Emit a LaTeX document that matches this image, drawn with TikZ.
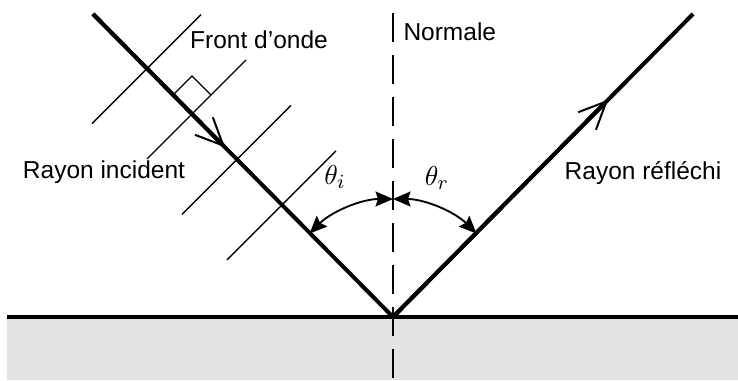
\documentclass[tikz,border=0pt]{standalone}
\usepackage{fontspec}
\setmainfont{Liberation Sans}
\usetikzlibrary{arrows.meta,positioning,calc}
\tikzset{
  ray/.style={line width=1.6pt},
  front/.style={line width=0.55pt},
  normal/.style={line width=0.8pt, dash pattern=on 11.6pt off 5.2pt},
  surface/.style={line width=1.3pt},
  ground/.style={fill=black!11},
  angarc/.style={line width=0.75pt, {Stealth[length=7pt,width=6pt,inset=1pt]}-{Stealth[length=7pt,width=6pt,inset=1pt]}},
  barb/.style={line width=1.6pt, -{Straight Barb[length=11pt,width=10pt,line width=0.8pt]}},
  lbl/.style={font=\fontsize{9.8}{12}\selectfont, inner sep=0pt},
  ang/.style={font=\fontsize{11}{13}\selectfont, inner sep=0pt}}

\begin{document}
\begin{tikzpicture}[x=0.4pt, y=0.4pt]
  \useasboundingbox (0,0) rectangle (738,380);
  % points
  \coordinate (O) at (393,63);
  \coordinate (A) at (93,366);
  \coordinate (B) at (693,366);
  \coordinate (ntop) at (393,367);
  \coordinate (nbot) at (393,0);
  \coordinate (sl) at (7,63);
  \coordinate (sr) at (738,63);
  \coordinate (ai) at ($(A)!0.44!(O)$);
  \coordinate (ar) at ($(O)!0.717!(B)$);
  % mirror
  \fill[ground] (7,0) rectangle (738,62);
  \draw[surface] (sl) -- (sr);
  \draw[normal] (ntop) -- (nbot);
  % wave fronts
  \foreach \t/\lo [count=\k] in {0.18/55,0.33/45,0.48/55,0.63/55} {
    \coordinate (w\k) at ($(A)!\t!(O)$);
    \draw[front] ($(w\k)+(-\lo,-\lo)$) -- ($(w\k)+(54,54)$);
  }
  \draw[front] ($(w2)+(-19,19)$) -- ($(w2)+(0,38)$) -- ($(w2)+(19,19)$);
  % rays
  \draw[ray] (A) -- (O) -- (B);
  \draw[barb] (A) -- (ai);
  \draw[barb] (O) -- (ar);
  % angles
  \draw[angarc] ($(O)+(135:118)$) arc[start angle=135, end angle=90, radius=118];
  \draw[angarc] ($(O)+(45:118)$) arc[start angle=45, end angle=90, radius=118];
  \node[ang] (thi) at (335,203) {$\theta_i$};
  \node[ang] (thr) at (437,202) {$\theta_r$};
  % labels
  \node[lbl] (front) at (259,340) {Front d’onde};
  \node[lbl] (inc) at (104,208) {Rayon incident};
  \node[lbl, anchor=west] (norm) at (403,348) {Normale};
  \node[lbl] (refl) at (643,207) {Rayon réfléchi};
\end{tikzpicture}
\end{document}
